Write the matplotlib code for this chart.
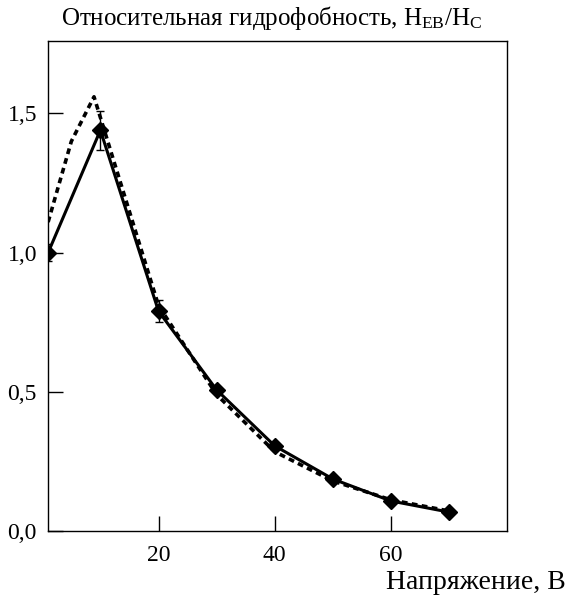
import matplotlib
matplotlib.use("Agg")
import matplotlib.pyplot as plt

plt.rcParams['font.family'] = ['Liberation Serif', 'DejaVu Serif']
plt.rcParams['mathtext.fontset'] = 'custom'
plt.rcParams['mathtext.rm'] = 'Liberation Serif'

# measured series (solid, with markers)
volts = [1, 10, 20, 30, 40, 50, 60, 70]
hydro = [1.0, 1.44, 0.79, 0.507, 0.306, 0.187, 0.108, 0.068]
hydro_err = [0.03, 0.07, 0.04, 0.0, 0.0, 0.0, 0.0, 0.0]

# model curve (dashed)
volts_fit = [1, 5, 8.9, 12, 20, 30, 40, 50, 60, 70]
hydro_fit = [1.11, 1.40, 1.56, 1.35, 0.81, 0.49, 0.285, 0.18, 0.112, 0.072]

yticks = [0.0, 0.5, 1.0, 1.5]
ytick_labels = ['0,0', '0,5', '1,0', '1,5']
xticks = [20, 40, 60]

fig = plt.figure(figsize=(5.66, 5.96), dpi=100)
ax = fig.add_axes([0.085, 0.109, 0.811, 0.822])

ax.plot(volts_fit, hydro_fit, color='black', lw=2.6, linestyle=(0, (1.6, 1.2)))
ax.errorbar(volts, hydro, yerr=hydro_err, color='black', lw=2.2, marker='D',
            markersize=8, capsize=3, elinewidth=1, ecolor='black')

ax.set_xlim(1, 80)
ax.set_ylim(0, 1.76)
ax.set_xticks(xticks)
ax.set_xticklabels([str(t) for t in xticks])
ax.set_yticks(yticks)
ax.set_yticklabels(ytick_labels)
ax.tick_params(direction='in', length=11, width=1, labelsize=17, pad=8)
ax.tick_params(axis='x', pad=10)
for s in ax.spines.values():
    s.set_linewidth(1)

fig.text(0.108, 0.97, 'Относительная гидрофобность, $\\mathregular{H_{EB}/H_C}$',
         fontsize=18, ha='left', va='center')
fig.text(0.999, 0.023, 'Напряжение, В', fontsize=20, ha='right', va='center')

plt.savefig('out.png', dpi=100)
